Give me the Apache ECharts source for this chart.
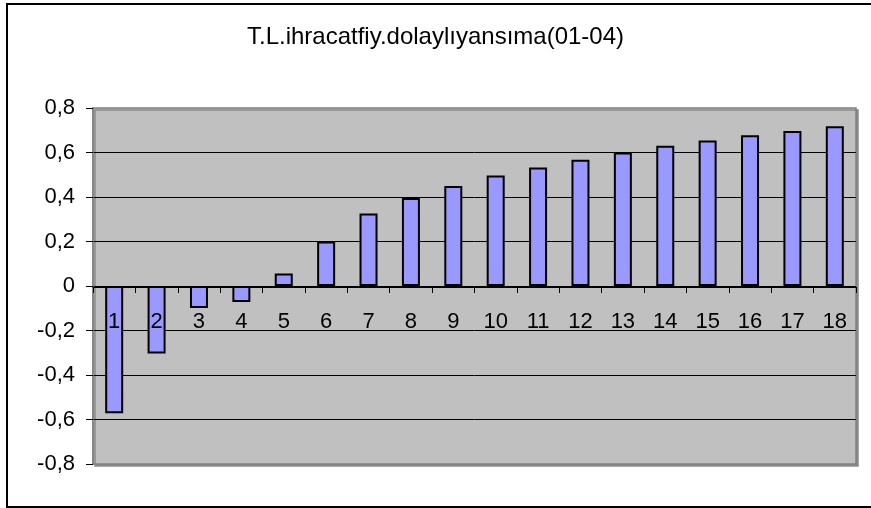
<!DOCTYPE html>
<html>
<head>
<meta charset="utf-8">
<script src="https://cdn.jsdelivr.net/npm/echarts@6/dist/echarts.min.js"></script>
<style>
html,body{margin:0;padding:0;background:#fff;}
#c{width:871px;height:508px;}
</style>
</head>
<body>
<div id="c"></div>
<script>
const titleText = 'T.L.ihracatfiy.dolaylıyansıma(01-04)';
const categories = ['1','2','3','4','5','6','7','8','9','10','11','12','13','14','15','16','17','18'];
const values = [-0.572, -0.303, -0.099, -0.072, 0.056, 0.200, 0.326, 0.395, 0.450, 0.497, 0.533, 0.567, 0.600, 0.630, 0.654, 0.678, 0.697, 0.718];
const yMin = -0.8, yMax = 0.8, yStep = 0.2;

const chart = echarts.init(document.getElementById('c'), null, {renderer: 'canvas'});
const font = '"Liberation Sans", Arial, sans-serif';
chart.setOption({
  animation: false,
  backgroundColor: '#ffffff',
  title: {
    text: titleText,
    left: 'center',
    top: 20,
    textStyle: {fontFamily: font, fontSize: 24, fontWeight: 'normal', color: '#000'}
  },
  graphic: [{
    type: 'rect',
    shape: {x: 7, y: 4, width: 900, height: 503},
    style: {fill: 'none', stroke: '#000', lineWidth: 2},
    silent: true,
    z: 100
  }],
  grid: {
    left: 93, right: 15, top: 108, bottom: 44,
    show: true,
    backgroundColor: '#C0C0C0',
    borderColor: '#808080',
    borderWidth: 1.5,
    shadowColor: '#8a8a8a',
    shadowOffsetX: 2,
    shadowOffsetY: 2,
    shadowBlur: 0
  },
  xAxis: {
    type: 'category',
    data: categories,
    axisLine: {show: true, onZero: false, lineStyle: {color: '#000', width: 1}},
    axisTick: {show: true, alignWithLabel: false, length: 6, lineStyle: {color: '#000'}},
    axisLabel: {fontFamily: font, fontSize: 22, color: '#000', margin: 24, interval: 0},
    splitLine: {show: false},
    z: 5
  },
  yAxis: {
    type: 'value',
    min: yMin, max: yMax, interval: yStep,
    axisLine: {show: true, onZero: false, lineStyle: {color: '#808080', width: 1.5}},
    axisTick: {show: true, length: 7, lineStyle: {color: '#000'}},
    axisLabel: {
      fontFamily: font, fontSize: 22, color: '#000', margin: 18,
      formatter: function (v) {
        const r = Math.round(v * 10) / 10;
        if (r === 0) return '0';
        return r.toFixed(1).replace('.', ',');
      }
    },
    splitLine: {show: true, showMinLine: false, showMaxLine: false, lineStyle: {color: '#000', width: 1}}
  },
  series: [{
    type: 'bar',
    data: values,
    barWidth: 18,
    itemStyle: {color: '#9999FF', borderColor: '#000', borderWidth: 2},
    z: 2
  }]
});
// place the category axis on the value axis' zero, using the library's own scale
const zeroY = chart.convertToPixel({yAxisIndex: 0}, 0);
const minY = chart.convertToPixel({yAxisIndex: 0}, yMin);
chart.setOption({xAxis: {offset: -(minY - zeroY)}});
</script>
</body>
</html>
